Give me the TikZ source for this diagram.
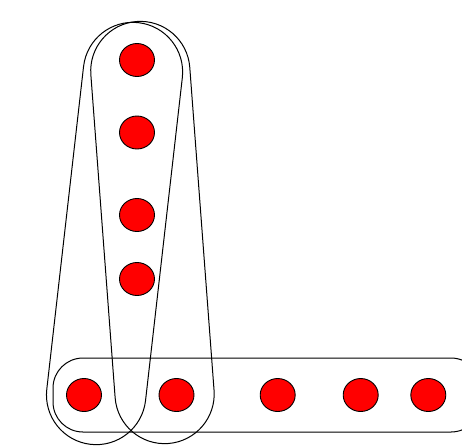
\documentclass[tikz,border=0pt]{standalone}
\usetikzlibrary{shapes.geometric}
\begin{document}
\begin{tikzpicture}[x=1pt,y=-1pt,
  dot/.style={ellipse,draw=black,fill=red,line width=0.9pt,minimum width=35pt,minimum height=33pt,inner sep=0pt},
  setbox/.style={draw=black,line width=1pt,inner sep=0pt}]
\useasboundingbox (0,0) rectangle (462,445);
\clip (0,0) rectangle (462,445);
% enclosing sets
\node[setbox,minimum width=99.4pt,minimum height=424.4pt,rounded corners=49.7pt,rotate=-6.5] (setP) at (114.55,233.5) {};
\node[setbox,minimum width=99.2pt,minimum height=423.2pt,rounded corners=49.6pt,rotate=4.3] (setQ) at (152.45,232.5) {};
\node[setbox,minimum width=428pt,minimum height=74pt,rounded corners=30pt] (setH) at (267,395) {};
% column of dots
\node[dot] (v1) at (137,60) {};
\node[dot] (v2) at (137,132.5) {};
\node[dot] (v3) at (137,215) {};
\node[dot] (v4) at (137,279) {};
% row of dots
\node[dot] (h1) at (84,395) {};
\node[dot] (h2) at (176.5,395) {};
\node[dot] (h3) at (277.7,395) {};
\node[dot] (h4) at (360.7,395) {};
\node[dot] (h5) at (428.3,395) {};
\end{tikzpicture}
\end{document}
